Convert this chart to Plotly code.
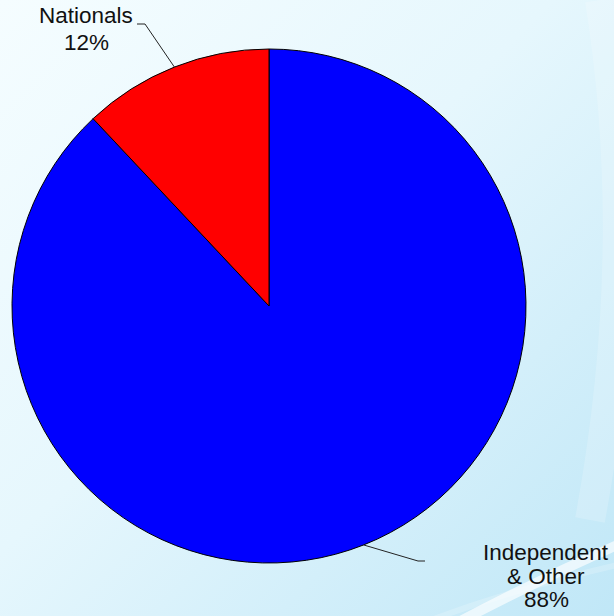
import base64
import math
import plotly.graph_objects as go

# ---- data ----
labels = ["Independent & Other", "Nationals"]
label_lines = [["Independent", "& Other"], ["Nationals"]]
values = [88, 12]
colors = ["#0000FF", "#FF0000"]

W, H = 614, 616
CX, CY, R = 269, 306, 257  # pie centre / radius in pixels


def px(x):
    return x / W


def py(y):
    return (H - y) / H


# ---- background (gradient + swooshes) as an SVG data URI ----
svg = f"""<svg xmlns='http://www.w3.org/2000/svg' width='{W}' height='{H}' viewBox='0 0 {W} {H}'>
<defs>
<linearGradient id='g' x1='0' y1='0' x2='1' y2='1'>
<stop offset='0' stop-color='#f5fdff'/>
<stop offset='0.45' stop-color='#e6f7fd'/>
<stop offset='1' stop-color='#c0e7f7'/>
</linearGradient>
</defs>
<rect width='{W}' height='{H}' fill='url(#g)'/>
<path d='M600 0 Q 640 250 590 520' stroke='white' stroke-opacity='0.18' stroke-width='30' fill='none'/>
<path d='M440 632 Q 540 578 640 535' stroke='white' stroke-opacity='0.65' stroke-width='10' fill='none'/>
<path d='M380 640 Q 500 590 640 560' stroke='white' stroke-opacity='0.2' stroke-width='6' fill='none'/>
</svg>"""
bg_uri = "data:image/svg+xml;base64," + base64.b64encode(svg.encode()).decode()

fig = go.Figure()
fig.add_trace(go.Pie(
    labels=labels,
    values=values,
    sort=False,
    direction="clockwise",
    rotation=0,
    marker=dict(colors=colors, line=dict(color="black", width=1)),
    textinfo="none",
    hoverinfo="label+percent",
    showlegend=False,
    domain=dict(x=[px(CX - R), px(CX + R)], y=[py(CY + R), py(CY - R)]),
))

# leader-line start points at each slice's mid angle
total = sum(values)
cum = 0
mids = []
for v in values:
    mid = (cum + v / 2) / total * 2 * math.pi
    mids.append((CX + R * math.sin(mid), CY - R * math.cos(mid)))
    cum += v

shapes = []
annotations = []
font = dict(family="Liberation Sans, Arial, sans-serif", size=22.5, color="#111111")

# Independent & Other label
sx, sy = mids[0]
shapes.append(dict(type="path", xref="paper", yref="paper",
                   path=f"M {px(sx)} {py(sy)} L {px(418)} {py(561)} L {px(425)} {py(561)}",
                   line=dict(color="#222222", width=1)))
pct0 = f"{round(values[0] / total * 100)}%"
for txt, yy in zip(label_lines[0] + [pct0], [552, 576, 599]):
    annotations.append(dict(text=txt, x=px(546), y=py(yy), xref="paper", yref="paper",
                            xanchor="center", yanchor="middle", showarrow=False, font=font))

# Nationals label
sx, sy = mids[1]
shapes.append(dict(type="path", xref="paper", yref="paper",
                   path=f"M {px(sx)} {py(sy)} L {px(145)} {py(24)} L {px(137)} {py(24)}",
                   line=dict(color="#222222", width=1)))
pct1 = f"{round(values[1] / total * 100)}%"
for txt, yy in zip(label_lines[1] + [pct1], [15.5, 42]):
    annotations.append(dict(text=txt, x=px(86), y=py(yy), xref="paper", yref="paper",
                            xanchor="center", yanchor="middle", showarrow=False, font=font))

fig.update_layout(
    width=W, height=H,
    margin=dict(l=0, r=0, t=0, b=0),
    paper_bgcolor="#e6f6fc",
    plot_bgcolor="rgba(0,0,0,0)",
    shapes=shapes,
    annotations=annotations,
    images=[dict(source=bg_uri, xref="paper", yref="paper", x=0, y=1,
                 sizex=1, sizey=1, sizing="stretch", layer="below",
                 xanchor="left", yanchor="top")],
)

fig.write_html("out.html", config={"displayModeBar": False},
               post_script="document.body.style.margin='0';document.body.style.overflow='hidden';")
